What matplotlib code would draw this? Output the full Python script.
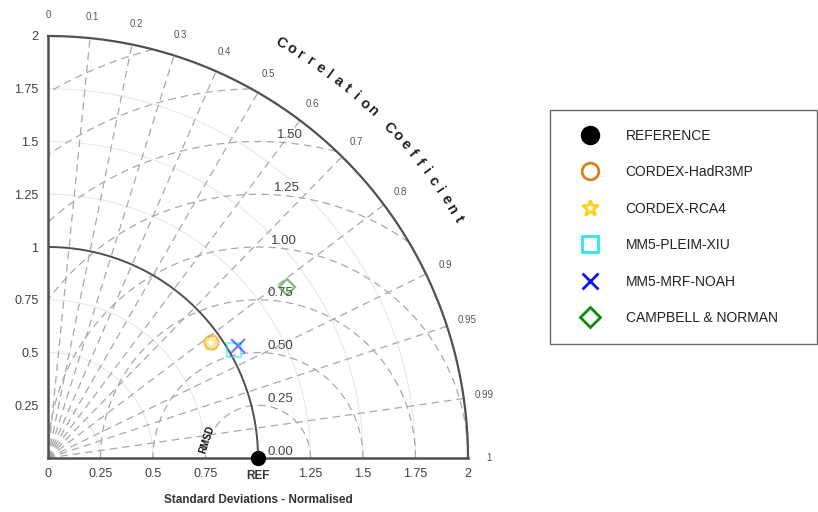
import numpy as np
import matplotlib
matplotlib.use("Agg")
import matplotlib.pyplot as plt

plt.rcParams['font.family'] = ['Liberation Sans', 'DejaVu Sans']

# ---- data ----
models = ["REFERENCE", "CORDEX-HadR3MP", "CORDEX-RCA4", "MM5-PLEIM-XIU",
          "MM5-MRF-NOAH", "CAMPBELL & NORMAN"]
std_norm = [1.0, 0.952, 0.947, 1.024, 1.048, 1.397]
corr = [1.0, 0.815, 0.819, 0.865, 0.863, 0.815]
markers = ["o", "o", "*", "s", "x", "D"]
colors = ["black", "#D9821A", "#FFD21A", "#2EE6F0", "#0A14FF", "#0E8A0E"]
filled = [True, False, False, False, False, False]

corr_ticks = [0.1, 0.2, 0.3, 0.4, 0.5, 0.6, 0.7, 0.8, 0.9, 0.95, 0.99]
corr_labels = ["0", "0.1", "0.2", "0.3", "0.4", "0.5", "0.6", "0.7", "0.8",
               "0.9", "0.95", "0.99", "1"]
corr_label_vals = [0.0] + corr_ticks + [1.0]
std_ticks = [0, 0.25, 0.5, 0.75, 1.0, 1.25, 1.5, 1.75, 2.0]
std_ticklabels = ["0", "0.25", "0.5", "0.75", "", "1.25", "1.5", "1.75", "2"]
ytick_vals = [0.25, 0.5, 0.75, 1.0, 1.25, 1.5, 1.75, 2.0]
ytick_labels = ["0.25", "0.5", "0.75", "1", "1.25", "1.5", "1.75", "2"]
rmsd_levels = [0.25, 0.5, 0.75, 1.0, 1.25, 1.5, 1.75, 2.0]
rmsd_labels = ["0.00", "0.25", "0.50", "0.75", "1.00", "1.25", "1.50"]
rmsd_label_vals = [0.0, 0.25, 0.5, 0.75, 1.0, 1.25, 1.5]

RMAX = 2.0
grid_c = "#a8a8a8"
dark = "#505050"

fig = plt.figure(figsize=(8.18, 5.12), dpi=100)
ax = fig.add_axes([48/818, 54/512, 420/818, 422/512])
ax.set_xlim(0, RMAX)
ax.set_ylim(0, RMAX)

t = np.linspace(0, np.pi/2, 400)
# faint std arcs
for r in [0.25, 0.5, 0.75, 1.25, 1.5, 1.75]:
    ax.plot(r*np.cos(t), r*np.sin(t), color="#e8e8e8", lw=0.8, zorder=1)

# correlation radial lines
for c in corr_ticks:
    th = np.arccos(c)
    ax.plot([0, RMAX*np.cos(th)], [0, RMAX*np.sin(th)], ls=(0, (6, 4)),
            color=grid_c, lw=0.9, zorder=2)

# RMSD circles centred on REF
phi = np.linspace(0, np.pi, 800)
for r in rmsd_levels:
    x = 1.0 + r*np.cos(phi)
    y = r*np.sin(phi)
    ok = (x >= 0) & (y >= 0) & (x**2 + y**2 <= RMAX**2 + 1e-9)
    x = np.where(ok, x, np.nan)
    y = np.where(ok, y, np.nan)
    ax.plot(x, y, ls=(0, (6, 4)), color=grid_c, lw=0.9, zorder=2)

# std = 1 and outer arc
ax.plot(np.cos(t), np.sin(t), color=dark, lw=1.4, zorder=3)
ax.plot(RMAX*np.cos(t), RMAX*np.sin(t), color=dark, lw=1.6, zorder=3, clip_on=False)

# spines/ticks
for s in ["top", "right"]:
    ax.spines[s].set_visible(False)
for s in ["left", "bottom"]:
    ax.spines[s].set_color(dark)
    ax.spines[s].set_linewidth(1.8)
ax.set_xticks(std_ticks)
ax.set_xticklabels(std_ticklabels, fontsize=9, color="#404040")
ax.set_yticks(ytick_vals)
ax.set_yticklabels(ytick_labels, fontsize=9, color="#404040")
ax.tick_params(length=0, pad=7)
ax.text(1.0, -0.085, "REF", ha="center", va="center", fontsize=8.5,
        fontweight="bold", color="#333333", clip_on=False)
ax.set_xlabel("Standard Deviations - Normalised", fontsize=8.5,
              fontweight="bold", color="#333333", labelpad=10)

# correlation labels
for c, lab in zip(corr_label_vals, corr_labels):
    th = np.arccos(c)
    ax.text(2.1*np.cos(th), 2.1*np.sin(th), lab, ha="center", va="center",
            fontsize=7, color="#555555", clip_on=False)

# curved title
title = "Correlation Coefficient"
a0, a1 = 60.5, 30.1
R = 2.257
n = len(title)
for i, ch in enumerate(title):
    a = np.radians(a0 - i*(a0 - a1)/(n - 1))
    ax.text(R*np.cos(a), R*np.sin(a), ch, rotation=np.degrees(a) - 90,
            ha="center", va="center", fontsize=10.5, fontweight="bold",
            color="#222222", clip_on=False, rotation_mode="anchor")

# RMSD labels
for v, lab in zip(rmsd_label_vals, rmsd_labels):
    dx = 0.105 + 0.065*max(0, v - 0.75)
    ax.text(1.0 + dx, v + 0.03, lab, ha="center", va="center", fontsize=9.5,
            color="#444444", zorder=4)
ax.text(0.757, 0.088, "RMSD", rotation=72, ha="center", va="center",
        fontsize=7, fontweight="bold", color="#111111", zorder=4)

# data points
handles = []
for name, s, c, m, col, f in zip(models, std_norm, corr, markers, colors, filled):
    th = np.arccos(c)
    x, y = s*np.cos(th), s*np.sin(th)
    if f:
        h, = ax.plot(x, y, marker=m, ls="none", ms=10, color=col, zorder=6,
                     clip_on=False, label=name)
    else:
        ms = 10 if m != "*" else 12
        if m == "D":
            ms = 8
        h, = ax.plot(x, y, marker=m, ls="none", ms=ms, mfc="none", mec=col,
                     mew=1.6, alpha=0.55, zorder=5, label=name)
    handles.append(h)

leg = fig.legend(handles=handles, loc="upper left",
                 bbox_to_anchor=(550/818, 1 - 110/512, 267/818, 0.0),
                 mode="expand", fontsize=10, frameon=True, fancybox=False,
                 edgecolor="#444444", labelspacing=1.62, borderpad=1.35,
                 handlelength=3.0, handletextpad=1.1, borderaxespad=0)
leg.get_frame().set_linewidth(1.0)
for lh in leg.legend_handles:
    lh.set_alpha(1.0)
    lh.set_markersize(12 if lh.get_marker() != "D" else 10)
    lh.set_markeredgewidth(2.0)
for txt in leg.get_texts():
    txt.set_color("#222222")

fig.savefig("out.png", dpi=100)
